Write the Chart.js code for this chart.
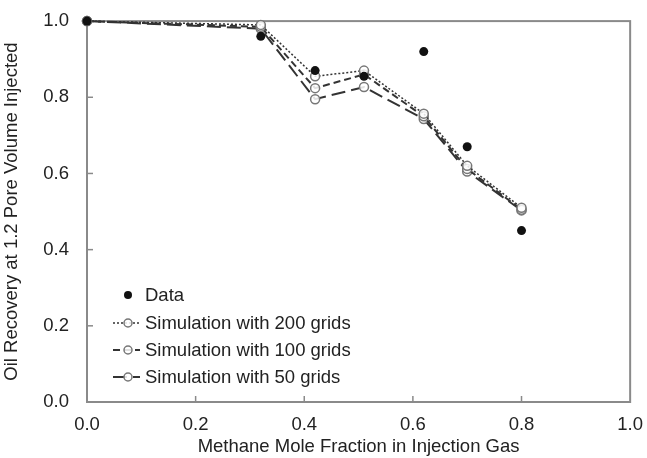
<!DOCTYPE html>
<html>
<head>
<meta charset="utf-8">
<script src="https://cdn.jsdelivr.net/npm/chart.js@4/dist/chart.umd.min.js"></script>
<style>
  html, body { margin: 0; padding: 0; background: #fff; }
  #wrap { width: 647px; height: 458px; position: relative; }
</style>
</head>
<body>
<div id="wrap"><canvas id="recoveryChart"></canvas></div>
<script>
// ── Data ──
const X_FRACTION = [0, 0.32, 0.42, 0.51, 0.62, 0.70, 0.80];
const DATA_Y     = [1.0, 0.96, 0.87, 0.855, 0.92, 0.67, 0.45];
const SIM200_Y   = [1.0, 0.99, 0.855, 0.87, 0.757, 0.62, 0.51];
const SIM100_Y   = [1.0, 0.985, 0.824, 0.86, 0.75, 0.612, 0.505];
const SIM50_Y    = [1.0, 0.98, 0.795, 0.827, 0.743, 0.605, 0.503];
const TICK_VALUES = [0, 0.2, 0.4, 0.6, 0.8, 1.0];

const SERIES_LABELS = ['Data', 'Simulation with 200 grids', 'Simulation with 100 grids', 'Simulation with 50 grids'];

// ── Colours / fonts ──
const C_TEXT  = '#222';
const C_AXIS  = '#8a8a8a';
const C_LINE  = '#333';
const C_MARK  = '#777';
const FONT    = 'Liberation Sans, Arial, sans-serif';
const FSIZE   = 18.5;

const toPoints = ys => X_FRACTION.map((x, i) => ({ x, y: ys[i] }));

function simSet(label, ys, dash, width) {
  return {
    label,
    data: toPoints(ys),
    showLine: true,
    clip: false,
    borderColor: C_LINE,
    borderWidth: width,
    borderDash: dash,
    pointRadius: 4.5,
    pointBorderColor: C_MARK,
    pointBorderWidth: 1.5,
    pointBackgroundColor: 'rgba(255,255,255,0.85)',
  };
}

// ── Frame, inward ticks and legend ──
const framePlugin = {
  id: 'frame',
  beforeDatasetsDraw(chart) {
    const { ctx, chartArea: a, scales } = chart;
    ctx.save();
    ctx.strokeStyle = C_AXIS;
    ctx.lineWidth = 2;
    ctx.strokeRect(a.left, a.top, a.right - a.left, a.bottom - a.top);
    ctx.lineWidth = 1.5;
    TICK_VALUES.slice(1, -1).forEach(v => {
      const px = scales.x.getPixelForValue(v);
      ctx.beginPath(); ctx.moveTo(px, a.bottom); ctx.lineTo(px, a.bottom - 6); ctx.stroke();
      const py = scales.y.getPixelForValue(v);
      ctx.beginPath(); ctx.moveTo(a.left, py); ctx.lineTo(a.left + 6, py); ctx.stroke();
    });
    ctx.restore();
  },
  afterDraw(chart) {
    const { ctx, chartArea: a } = chart;
    const rows = [a.bottom - 107, a.bottom - 79, a.bottom - 52, a.bottom - 25];
    const x0 = a.left + 26, x1 = a.left + 53, xm = a.left + 41, xt = a.left + 58;
    ctx.save();
    chart.data.datasets.forEach((ds, i) => {
      const y = rows[i];
      if (ds.showLine) {
        ctx.strokeStyle = C_LINE;
        ctx.lineWidth = ds.borderWidth;
        ctx.setLineDash(ds.borderDash);
        ctx.beginPath(); ctx.moveTo(x0, y); ctx.lineTo(x1, y); ctx.stroke();
        ctx.setLineDash([]);
        ctx.fillStyle = ds.pointBackgroundColor;
        ctx.strokeStyle = ds.pointBorderColor;
        ctx.lineWidth = ds.pointBorderWidth;
        ctx.beginPath(); ctx.arc(xm, y, 4, 0, Math.PI * 2); ctx.fill(); ctx.stroke();
      } else {
        ctx.fillStyle = ds.backgroundColor;
        ctx.beginPath(); ctx.arc(xm, y, 4, 0, Math.PI * 2); ctx.fill();
      }
      ctx.fillStyle = C_TEXT;
      ctx.font = FSIZE + 'px ' + FONT;
      ctx.textBaseline = 'middle';
      ctx.fillText(ds.label, xt, y + 1);
    });
    ctx.restore();
  }
};

new Chart(document.getElementById('recoveryChart'), {
  type: 'scatter',
  data: {
    datasets: [
      {
        label: SERIES_LABELS[0],
        data: toPoints(DATA_Y),
        showLine: false,
        clip: false,
        pointRadius: 4.5,
        backgroundColor: '#111',
        borderColor: '#111',
        pointBorderWidth: 0,
      },
      simSet(SERIES_LABELS[1], SIM200_Y, [2, 2], 1.5),
      simSet(SERIES_LABELS[2], SIM100_Y, [7, 4], 2),
      simSet(SERIES_LABELS[3], SIM50_Y, [14, 6], 2),
    ]
  },
  plugins: [framePlugin],
  options: {
    responsive: true,
    maintainAspectRatio: false,
    animation: false,
    layout: { padding: { left: 0, right: 12, top: 15, bottom: 0 } },
    plugins: { legend: { display: false }, tooltip: { enabled: false } },
    scales: {
      x: {
        type: 'linear', min: 0, max: 1,
        afterBuildTicks: s => { s.ticks = TICK_VALUES.map(v => ({ value: v })); },
        afterFit: s => { s.height = 56; },
        grid: { display: false },
        border: { display: false },
        ticks: { color: C_TEXT, font: { size: FSIZE, family: FONT }, padding: 4, callback: v => v.toFixed(1), maxRotation: 0 },
        title: { display: true, text: 'Methane Mole Fraction in Injection Gas', color: C_TEXT, font: { size: FSIZE, family: FONT }, padding: { top: 1, bottom: 0 } },
      },
      y: {
        type: 'linear', min: 0, max: 1,
        afterBuildTicks: s => { s.ticks = TICK_VALUES.map(v => ({ value: v })); },
        afterFit: s => { s.width = 87; },
        grid: { display: false },
        border: { display: false },
        ticks: { color: C_TEXT, font: { size: FSIZE, family: FONT }, padding: 10, callback: v => v.toFixed(1) },
        title: { display: true, text: 'Oil Recovery at 1.2 Pore Volume Injected', color: C_TEXT, font: { size: FSIZE, family: FONT }, padding: { top: 1, bottom: 2 } },
      }
    }
  }
});
</script>
</body>
</html>
